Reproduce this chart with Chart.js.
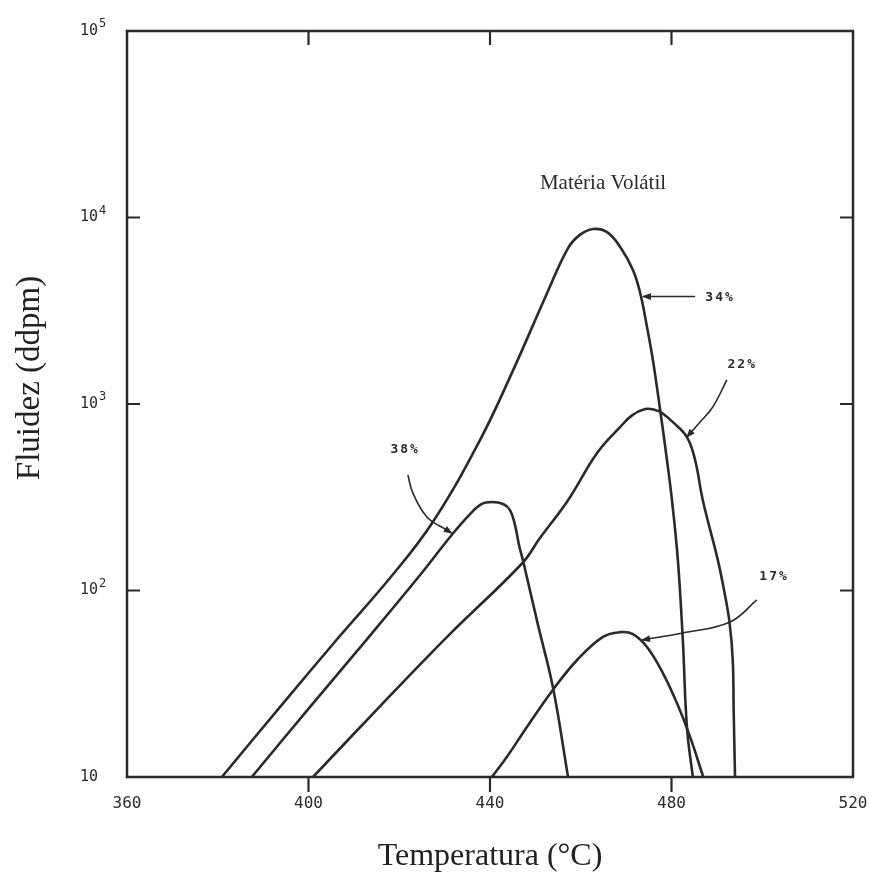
<!DOCTYPE html>
<html><head><meta charset="utf-8">
<script src="https://cdn.jsdelivr.net/npm/chart.js@4.4.1/dist/chart.umd.min.js"></script>
<style>html,body{margin:0;padding:0;background:#fff;}#wrap{width:869px;height:882px;}</style>
</head><body><div id="wrap"><canvas id="c" width="869" height="882"></canvas></div>
<script>
// ---- data (temperature °C, fluidity ddpm) ----
const t34 = [380.9,393.7,406.9,418.0,427.4,437.8,445.1,452.6,457.2,459.8,462.7,465.8,468.7,471.5,473.1,474.6,475.9,477.5,479.0,480.1,481.4,482.5,483.4,484.7];
const f34 = [10,23.7,57,117,233,641,1520,3940,6850,8070,8680,8350,6950,5230,3940,2590,1720,929,501,305,146,54,18.5,10];
const t38 = [387.5,400.3,413.1,424.1,431.6,435.6,438.2,440.4,442.9,444.4,445.5,446.4,447.3,450.6,453.9,457.2];
const f38 = [10,23.7,55.6,117,199,257,291,298,291,270,225,175,144,65,30,10];
const t22 = [401.0,415.8,431.2,447.1,451.0,457.2,463.6,468.7,471.3,474.2,476.4,477.9,480.3,483.4,485.2,486.9,490.2,491.7,492.8,493.5,493.7,494.0];
const f22 = [10,24,58.5,140,191,305,546,753,869,940,929,895,800,665,501,305,146,97,67,42.4,22.9,10];
const t17 = [440.4,443.7,448.1,453.8,459.2,464.9,468.7,471.5,474.6,478.1,481.2,484.1,487.0];
const f17 = [10,12.8,18.5,29.2,42.4,56.4,59.8,58.4,49.8,36.1,24.9,16.4,10];

// leader (arrow) lines
const lead34T = [485.2,473.7], lead34F = [3770,3770];
const lead22T = [492.2,489.1,486.3,483.4], lead22F = [1346,964,800,665];
const lead38T = [421.9,423.0,426.1,430.5,431.6], lead38F = [416,333,248,211,203];
const lead17T = [498.8,492.9,482.5,473.5], lead17F = [89,67.8,59.2,54.3];

// annotation labels
const labelText = ['34%','22%','38%','17%','Matéria Volátil'];
const labelT = [490.7,495.6,421.3,502.6,464.9];
const labelF = [3700,1620,566,118,15300];

// ticks
const xTickValues = [360,400,440,480,520];
const xTickLabels = ['360','400','440','480','520'];
const yTickValues = [10,100,1000,10000,100000];
const yTickBase = ['10','10','10','10','10'];
const yTickExp = ['','2','3','4','5'];
const xMarkTicks = [400,440,480];
const yMarkTicks = [100,1000,10000];

const INK = '#2a2a2a';
const pts = (xs, ys) => xs.map((x, i) => ({x: x, y: ys[i]}));

function curve(xs, ys) {
  return {data: pts(xs, ys), borderColor: INK, borderWidth: 2.6, pointRadius: 0,
    tension: 0.4, fill: false};
}
function leader(xs, ys) {
  return {data: pts(xs, ys), borderColor: INK, borderWidth: 1.6, pointRadius: 0,
    tension: 0.4, fill: false, leader: true};
}

const framePlugin = {
  id: 'frame',
  afterDatasetsDraw(chart) {
    const {ctx, chartArea: a, scales: {x, y}} = chart;
    ctx.save();
    ctx.strokeStyle = INK;
    ctx.lineWidth = 2.5;
    ctx.strokeRect(a.left, a.top, a.right - a.left, a.bottom - a.top);
    ctx.lineWidth = 2.2;
    ctx.beginPath();
    xMarkTicks.forEach(v => {
      const px = x.getPixelForValue(v);
      ctx.moveTo(px, a.bottom); ctx.lineTo(px, a.bottom + 15);
      ctx.moveTo(px, a.top); ctx.lineTo(px, a.top + 14);
    });
    yMarkTicks.forEach(v => {
      const py = y.getPixelForValue(v);
      ctx.moveTo(a.left, py); ctx.lineTo(a.left + 13, py);
      ctx.moveTo(a.right, py); ctx.lineTo(a.right - 13, py);
    });
    ctx.stroke();

    // arrowheads on leader lines
    chart.data.datasets.forEach((ds, i) => {
      if (!ds.leader) return;
      const els = chart.getDatasetMeta(i).data;
      const p1 = els[els.length - 2], p2 = els[els.length - 1];
      const ang = Math.atan2(p2.y - p1.y, p2.x - p1.x);
      ctx.save();
      ctx.translate(p2.x, p2.y);
      ctx.rotate(ang);
      ctx.fillStyle = INK;
      ctx.beginPath();
      ctx.moveTo(1, 0); ctx.lineTo(-8, -3.5); ctx.lineTo(-8, 3.5); ctx.closePath();
      ctx.fill();
      ctx.restore();
    });

    // y tick labels with superscript exponents
    ctx.fillStyle = INK;
    ctx.textBaseline = 'middle';
    yTickValues.forEach((v, i) => {
      const py = y.getPixelForValue(v);
      const bx = a.left - 47;
      ctx.textAlign = 'left';
      ctx.font = '15px "DejaVu Sans Mono"';
      ctx.fillText(yTickBase[i], bx, py);
      if (yTickExp[i]) {
        const w = ctx.measureText(yTickBase[i]).width;
        ctx.font = '12px "DejaVu Sans Mono"';
        ctx.fillText(yTickExp[i], bx + w + 1, py - 7);
      }
    });

    // series labels and caption
    ctx.textAlign = 'center';
    labelText.forEach((t, i) => {
      const px = x.getPixelForValue(labelT[i]);
      const py = y.getPixelForValue(labelF[i]);
      if (i === 4) {
        ctx.letterSpacing = '0px';
        ctx.font = '21px "Liberation Serif"';
      } else {
        ctx.letterSpacing = '2px';
        ctx.font = 'bold 13px "DejaVu Sans Mono"';
      }
      ctx.fillText(t, px, py);
    });
    ctx.letterSpacing = '0px';

    // y axis title
    ctx.save();
    ctx.translate(30, 378);
    ctx.rotate(-Math.PI / 2);
    ctx.font = '33px "Liberation Serif"';
    ctx.fillStyle = '#222';
    ctx.fillText('Fluidez (ddpm)', 0, 0);
    ctx.restore();
    ctx.restore();
  }
};

new Chart(document.getElementById('c'), {
  type: 'line',
  data: {
    datasets: [
      curve(t34, f34), curve(t38, f38), curve(t22, f22), curve(t17, f17),
      leader(lead34T, lead34F), leader(lead22T, lead22F), leader(lead38T, lead38F), leader(lead17T, lead17F)
    ]
  },
  options: {
    responsive: false,
    animation: false,
    layout: {padding: {left: 0, right: 16, top: 31, bottom: 0}},
    plugins: {legend: {display: false}, tooltip: {enabled: false}},
    scales: {
      x: {
        type: 'linear', min: 360, max: 520,
        grid: {display: false, drawTicks: false},
        border: {display: false},
        afterBuildTicks: s => { s.ticks = xTickValues.map(v => ({value: v})); },
        afterFit: s => { s.height = 105; s.paddingLeft = 0; s.paddingRight = 0; },
        ticks: {
          padding: 17, color: INK, maxRotation: 0,
          font: {family: 'DejaVu Sans Mono', size: 16},
          callback: (v, i) => xTickLabels[i]
        },
        title: {display: true, text: 'Temperatura (°C)', color: '#222',
          font: {family: 'Liberation Serif', size: 32}, padding: {top: 0, bottom: 6}}
      },
      y: {
        type: 'logarithmic', min: 10, max: 100000,
        grid: {display: false, drawTicks: false},
        border: {display: false},
        afterBuildTicks: s => { s.ticks = yTickValues.map(v => ({value: v})); },
        afterFit: s => { s.width = 127; s.paddingTop = 0; s.paddingBottom = 0; },
        ticks: {display: false}
      }
    }
  },
  plugins: [framePlugin]
});
</script></body></html>
